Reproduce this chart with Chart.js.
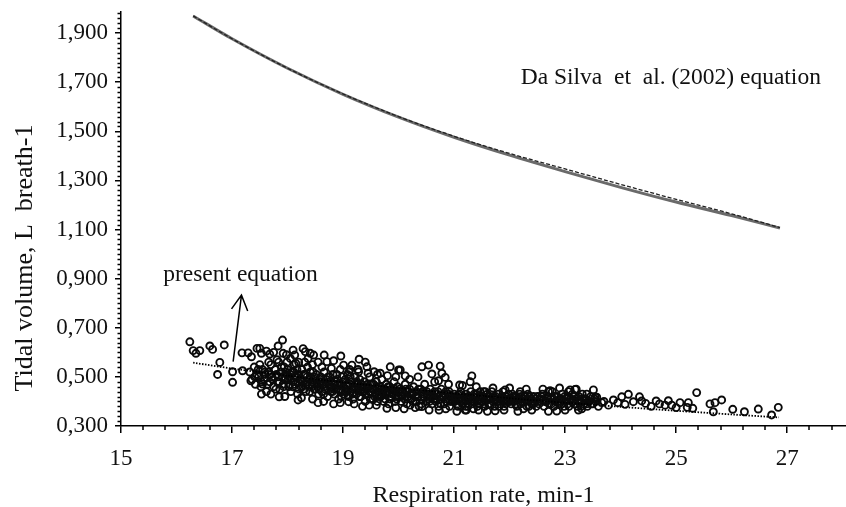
<!doctype html>
<html>
	<head>
		<meta charset="utf-8" />
		<title>Tidal volume vs respiration rate</title>
		<script src="https://cdn.jsdelivr.net/npm/chart.js@4.4.1/dist/chart.umd.min.js"></script>
		<style>
			html,
			body {
				margin: 0;
				padding: 0;
				background: #fff;
			}
			canvas {
				display: block;
			}
		</style>
	</head>

	<body>
		<canvas id="chartJSContainer" width="846" height="507"></canvas>

		<script>
			// axis ticks
			const xTicks = [15, 17, 19, 21, 23, 25, 27];
			const yTicks = [0.3, 0.5, 0.7, 0.9, 1.1, 1.3, 1.5, 1.7, 1.9];
			const yTickLabels = ["0,300", "0,500", "0,700", "0,900", "1,100", "1,300", "1,500", "1,700", "1,900"];

			// Da Silva et al. (2002) equation, two traces
			const daSilvaRate = [16.3, 17, 18, 19, 20, 21, 22, 23, 24, 25, 26, 26.87];
			const daSilvaVol = [1.970, 1.877, 1.757, 1.651, 1.558, 1.476, 1.403, 1.336, 1.272, 1.212, 1.157, 1.106];
			const daSilvaVolDashed = [1.970, 1.877, 1.757, 1.652, 1.560, 1.480, 1.410, 1.347, 1.284, 1.223, 1.164, 1.108];

			// present equation
			const presentRate = [16.3, 17, 18, 19, 20, 21, 22, 23, 24, 25, 26, 26.85];
			const presentVol = [0.558, 0.534, 0.505, 0.478, 0.455, 0.433, 0.413, 0.395, 0.378, 0.362, 0.347, 0.335];

			// observations [rate, volume]
			const observed = [
				[16.24,0.643],[16.30,0.607],[16.35,0.596],[16.42,0.607],[16.60,0.626],[16.65,0.612],[16.86,0.630],[16.78,0.559],
				[16.74,0.510],[17.01,0.521],[17.01,0.478],[17.18,0.598],[17.29,0.598],[17.35,0.582],[17.45,0.616],[17.50,0.616],
				[17.53,0.596],[17.68,0.593],[17.83,0.626],[17.91,0.650],[17.92,0.596],[18.10,0.609],[18.13,0.589],[18.32,0.603],
				[18.41,0.596],[18.47,0.589],[18.66,0.589],[18.71,0.562],[18.83,0.566],[18.96,0.585],[19.01,0.548],[19.16,0.548],
				[19.29,0.572],[19.43,0.541],[19.28,0.521],[19.56,0.521],[19.67,0.515],[19.85,0.541],[20.00,0.528],[17.53,0.430],
				[17.85,0.419],[18.19,0.406],[17.55,0.471],[17.34,0.484],[17.19,0.525],[18.55,0.395],[18.83,0.390],[19.47,0.385],
				[19.79,0.372],[19.10,0.399],[17.62,0.605],[17.75,0.600],[17.98,0.590],[18.05,0.575],[18.20,0.560],[18.28,0.615],
				[18.37,0.575],[18.55,0.560],[19.12,0.530],[19.40,0.560],
				[20.03,0.528],[20.12,0.504],[20.42,0.541],[20.54,0.548],[20.60,0.512],[20.75,0.544],[20.78,0.515],[20.72,0.484],
				[20.84,0.498],[21.32,0.504],[21.29,0.480],[21.10,0.467],[21.56,0.440],[21.92,0.447],[22.19,0.440],[22.70,0.440],
				[23.09,0.447],[23.18,0.449],[23.51,0.447],[23.57,0.417],[23.66,0.395],[20.73,0.365],[21.22,0.365],[21.74,0.362],
				[21.44,0.365],[22.85,0.361],[23.24,0.365],[20.42,0.379],[20.21,0.385],
				[22.73,0.444],[23.06,0.440],[23.39,0.430],[23.54,0.419],[23.87,0.406],[24.02,0.419],[24.14,0.429],[24.23,0.399],
				[24.34,0.419],[24.38,0.402],[24.64,0.402],[24.70,0.390],[24.86,0.403],[24.92,0.385],[25.07,0.395],[25.22,0.395],
				[25.20,0.376],[25.30,0.372],[25.37,0.436],[25.61,0.390],[25.70,0.395],[25.82,0.406],[25.67,0.358],[26.02,0.368],
				[26.23,0.358],[26.48,0.369],[26.72,0.345],[26.84,0.376],[21.08,0.426],[21.20,0.365],[21.53,0.440],
				[23.70,0.400],[23.78,0.385],[23.95,0.395],[24.08,0.388],[24.45,0.392],[24.55,0.380],[24.80,0.385],[25.00,0.375],
				// dense band
				[17.32,0.52],[17.36,0.49],[17.40,0.54],[17.42,0.47],[17.45,0.51],[17.48,0.50],[17.50,0.55],[17.52,0.46],
				[17.55,0.53],[17.58,0.49],[17.60,0.51],[17.62,0.44],[17.65,0.52],[17.68,0.48],[17.70,0.55],[17.72,0.50],
				[17.75,0.46],[17.78,0.53],[17.80,0.51],[17.82,0.48],[17.84,0.56],[17.86,0.45],[17.88,0.52],[17.90,0.50],
				[17.92,0.47],[17.94,0.54],[17.96,0.49],[17.98,0.51],
				[18.00,0.53],[18.02,0.46],[18.04,0.50],[18.06,0.44],[18.08,0.52],[18.10,0.48],[18.12,0.55],[18.14,0.47],
				[18.16,0.50],[18.18,0.43],[18.20,0.51],[18.22,0.49],[18.24,0.46],[18.26,0.53],[18.28,0.48],[18.30,0.45],
				[18.32,0.51],[18.34,0.47],[18.36,0.54],[18.38,0.49],[18.40,0.44],[18.42,0.50],[18.44,0.47],[18.46,0.52],
				[18.48,0.45],[18.50,0.49],
				[18.52,0.51],[18.54,0.46],[18.56,0.43],[18.58,0.48],[18.60,0.50],[18.62,0.44],[18.64,0.47],[18.66,0.52],
				[18.68,0.45],[18.70,0.49],[18.72,0.42],[18.74,0.47],[18.76,0.50],[18.78,0.44],[18.80,0.46],[18.82,0.51],
				[18.84,0.43],[18.86,0.48],[18.88,0.45],[18.90,0.49],[18.92,0.41],[18.94,0.47],[18.96,0.44],[18.98,0.50],
				[19.00,0.46],[19.02,0.43],[19.04,0.49],[19.06,0.45],[19.08,0.51],[19.10,0.42],[19.12,0.47],[19.14,0.44],
				[19.16,0.48],[19.18,0.41],[19.20,0.46],[19.22,0.50],[19.24,0.43],[19.26,0.47],[19.28,0.45],[19.30,0.49],
				[19.32,0.42],[19.34,0.46],[19.36,0.44],[19.38,0.48],[19.40,0.40],[19.42,0.45],[19.44,0.47],[19.46,0.43],
				[19.48,0.50],
				[19.50,0.44],[19.52,0.47],[19.54,0.41],[19.56,0.45],[19.58,0.43],[19.60,0.48],[19.62,0.40],[19.64,0.44],
				[19.66,0.46],[19.68,0.42],[19.70,0.49],[19.72,0.43],[19.74,0.45],[19.76,0.41],[19.78,0.47],[19.80,0.44],
				[19.82,0.39],[19.84,0.46],[19.86,0.42],[19.88,0.45],[19.90,0.43],[19.92,0.48],[19.94,0.40],[19.96,0.44],
				[19.98,0.46],
				[20.00,0.42],[20.02,0.45],[20.05,0.40],[20.07,0.44],[20.10,0.43],[20.12,0.47],[20.15,0.39],[20.17,0.42],
				[20.20,0.45],[20.22,0.41],[20.25,0.43],[20.27,0.46],[20.30,0.40],[20.32,0.44],[20.35,0.42],[20.37,0.38],
				[20.40,0.45],[20.42,0.41],[20.45,0.43],[20.47,0.47],[20.50,0.40],
				[20.52,0.43],[20.55,0.41],[20.57,0.45],[20.60,0.39],[20.62,0.42],[20.65,0.44],[20.67,0.40],[20.70,0.43],
				[20.72,0.38],[20.75,0.41],[20.77,0.45],[20.80,0.42],[20.82,0.39],[20.85,0.44],[20.87,0.41],[20.90,0.43],
				[20.92,0.38],[20.95,0.42],[20.97,0.40],
				[21.00,0.43],[21.02,0.40],[21.05,0.42],[21.07,0.38],[21.10,0.41],[21.12,0.44],[21.15,0.39],[21.17,0.42],
				[21.20,0.40],[21.22,0.43],[21.25,0.38],[21.27,0.41],[21.30,0.44],[21.32,0.39],[21.35,0.42],[21.37,0.40],
				[21.40,0.43],[21.42,0.38],[21.45,0.41],[21.47,0.44],
				[21.50,0.40],[21.52,0.42],[21.55,0.38],[21.58,0.41],[21.60,0.43],[21.63,0.39],[21.65,0.41],[21.68,0.44],
				[21.70,0.40],[21.73,0.38],[21.75,0.42],[21.78,0.40],[21.80,0.43],[21.83,0.39],[21.85,0.41],[21.88,0.44],
				[21.90,0.38],[21.93,0.42],[21.95,0.40],[21.98,0.43],
				[22.00,0.41],[22.03,0.39],[22.05,0.43],[22.08,0.40],[22.10,0.42],[22.13,0.38],[22.15,0.41],[22.18,0.43],
				[22.20,0.39],[22.23,0.41],[22.25,0.37],[22.28,0.42],[22.30,0.40],[22.33,0.43],[22.35,0.38],[22.38,0.41],
				[22.40,0.39],[22.43,0.42],[22.45,0.40],[22.48,0.38],
				[22.50,0.42],[22.53,0.39],[22.56,0.41],[22.59,0.43],[22.62,0.38],[22.65,0.40],[22.68,0.42],[22.71,0.39],
				[22.74,0.41],[22.77,0.44],[22.80,0.38],[22.83,0.40],[22.86,0.42],[22.89,0.39],[22.92,0.41],[22.95,0.43],
				[22.98,0.38],
				[23.01,0.40],[23.04,0.42],[23.07,0.38],[23.10,0.41],[23.13,0.43],[23.16,0.39],[23.19,0.41],[23.22,0.38],
				[23.25,0.42],[23.28,0.40],[23.31,0.43],[23.34,0.39],[23.37,0.41],[23.40,0.38],[23.43,0.40],[23.46,0.42],
				[23.50,0.39],[23.55,0.40],[23.60,0.38],
				// second pass over the dense band
				[17.41,0.50],[17.47,0.53],[17.53,0.48],[17.59,0.52],[17.64,0.47],[17.69,0.51],[17.74,0.49],[17.79,0.45],
				[17.83,0.50],[17.89,0.54],[17.93,0.46],[17.97,0.52],
				[18.01,0.49],[18.05,0.51],[18.09,0.46],[18.13,0.50],[18.17,0.53],[18.21,0.45],[18.25,0.49],[18.29,0.51],
				[18.33,0.44],[18.37,0.48],[18.41,0.52],[18.45,0.46],[18.49,0.50],
				[18.53,0.47],[18.57,0.45],[18.61,0.48],[18.65,0.43],[18.69,0.47],[18.73,0.50],[18.77,0.46],[18.81,0.44],
				[18.85,0.47],[18.89,0.51],[18.93,0.45],[18.97,0.42],
				[19.01,0.48],[19.05,0.44],[19.09,0.46],[19.13,0.50],[19.17,0.43],[19.21,0.45],[19.25,0.48],[19.29,0.42],
				[19.33,0.47],[19.37,0.45],[19.41,0.43],[19.45,0.46],[19.49,0.41],
				[19.53,0.45],[19.57,0.42],[19.61,0.46],[19.65,0.43],[19.69,0.45],[19.73,0.40],[19.77,0.44],[19.81,0.46],
				[19.85,0.41],[19.89,0.43],[19.93,0.45],[19.97,0.41],
				[20.01,0.44],[20.06,0.42],[20.11,0.41],[20.16,0.44],[20.21,0.43],[20.26,0.40],[20.31,0.42],[20.36,0.45],
				[20.41,0.39],[20.46,0.42],[20.51,0.44],
				[20.56,0.40],[20.61,0.43],[20.66,0.41],[20.71,0.44],[20.76,0.39],[20.81,0.42],[20.86,0.40],[20.91,0.44],
				[20.96,0.41],
				[21.01,0.41],[21.06,0.39],[21.11,0.43],[21.16,0.41],[21.21,0.38],[21.26,0.42],[21.31,0.40],[21.36,0.43],
				[21.41,0.40],[21.46,0.39],
				[21.51,0.42],[21.56,0.40],[21.61,0.41],[21.66,0.39],[21.71,0.42],[21.76,0.41],[21.81,0.38],[21.86,0.42],
				[21.91,0.40],[21.96,0.41],
				[22.01,0.40],[22.06,0.42],[22.11,0.39],[22.16,0.41],[22.21,0.42],[22.26,0.40],[22.31,0.38],[22.36,0.42],
				[22.41,0.40],[22.46,0.41],
				[22.51,0.40],[22.57,0.42],[22.63,0.40],[22.69,0.41],[22.75,0.39],[22.81,0.42],[22.87,0.40],[22.93,0.39],
				[22.99,0.42],
				[23.05,0.39],[23.11,0.40],[23.17,0.42],[23.23,0.40],[23.29,0.38],[23.35,0.41],[23.41,0.40],[23.47,0.39],
				[23.53,0.41],
				// third pass, core of the band
				[17.85,0.48],[17.95,0.50],[18.03,0.47],[18.11,0.52],[18.19,0.48],[18.27,0.46],[18.35,0.50],[18.43,0.48],
				[18.51,0.45],[18.59,0.49],[18.67,0.46],[18.75,0.48],[18.83,0.45],[18.91,0.47],[18.99,0.44],[19.07,0.47],
				[19.15,0.45],[19.23,0.47],[19.31,0.44],[19.39,0.46],[19.47,0.44],[19.55,0.47],[19.63,0.42],[19.71,0.44],
				[19.79,0.43],[19.87,0.44],[19.95,0.42],[20.03,0.43],[20.13,0.45],[20.23,0.41],[20.33,0.43],[20.43,0.44],
				[20.53,0.42],[20.63,0.41],[20.73,0.42],[20.83,0.43],[20.93,0.40],[21.03,0.42],[21.13,0.40],[21.23,0.41],
				[21.33,0.41],[21.43,0.42],[21.53,0.39],[21.63,0.42],[21.73,0.41],[21.83,0.40],[21.93,0.39],[22.03,0.41],
				[22.13,0.42],[22.23,0.40],[22.33,0.41],[22.43,0.39],[22.55,0.41],[22.67,0.40],[22.79,0.41],[22.91,0.40],
				[23.03,0.41],[23.15,0.40],[23.27,0.41],[23.39,0.39],
				// band edges
				[17.66,0.56],[17.81,0.57],[17.99,0.56],[18.15,0.555],[18.31,0.56],[18.45,0.55],[18.62,0.54],[18.79,0.535],
				[18.95,0.53],[19.11,0.52],[19.27,0.53],[19.45,0.515],[19.62,0.51],[19.80,0.505],[19.95,0.50],[20.20,0.49],
				[20.35,0.50],[20.65,0.48],[20.90,0.47],[21.15,0.465],[21.40,0.46],[21.70,0.455],[22.00,0.455],[22.30,0.45],
				[22.60,0.45],[22.90,0.455],[23.20,0.45],
				[17.70,0.43],[17.95,0.42],[18.25,0.415],[18.45,0.41],[18.65,0.40],[18.95,0.395],[19.20,0.39],[19.35,0.38],
				[19.60,0.385],[19.95,0.375],[20.10,0.37],[20.30,0.375],[20.55,0.365],[20.85,0.37],[21.05,0.36],[21.35,0.37],
				[21.60,0.36],[21.90,0.365],[22.15,0.36],[22.40,0.365],[22.70,0.36],[23.00,0.365],[23.30,0.37]
			];

			// annotation anchors in data units
			const daSilvaLabel = { text: "Da Silva  et  al. (2002) equation", x: 22.2, y: 1.693 };
			const presentLabel = { text: "present equation", x: 15.76, y: 0.890 };
			const arrowFrom = [17.02, 0.562];
			const arrowTo = [17.17, 0.833];

			const serif = "'Liberation Serif', 'Times New Roman', serif";
			const toXY = (xs, ys) => xs.map((x, i) => ({ x: x, y: ys[i] }));

			// minor ticks + text annotations + axis titles, placed with the chart's own scales
			const decorPlugin = {
				id: "decor",
				afterDraw(chart) {
					const { ctx, scales, chartArea } = chart;
					const xs = scales.x, ys = scales.y;
					ctx.save();
					ctx.strokeStyle = "#000";
					ctx.lineWidth = 1.5;
					ctx.beginPath();
					for (let k = 0; k * 0.4 + 15 <= xs.max + 1e-9; k++) {
						if (k % 5 === 0) continue;
						const px = Math.round(xs.getPixelForValue(15 + k * 0.4));
						ctx.moveTo(px, chartArea.bottom);
						ctx.lineTo(px, chartArea.bottom + 4);
					}
					for (let k = 0; 0.3 + k * 0.02 <= ys.max + 1e-9; k++) {
						if (k % 10 === 0) continue;
						const py = Math.round(ys.getPixelForValue(0.3 + k * 0.02)) + 0.5;
						ctx.moveTo(chartArea.left, py);
						ctx.lineTo(chartArea.left - 3.5, py);
					}
					ctx.stroke();

					ctx.fillStyle = "#111";
					ctx.font = "23.5px " + serif;
					ctx.textBaseline = "alphabetic";
					ctx.textAlign = "left";
					ctx.fillText(daSilvaLabel.text, xs.getPixelForValue(daSilvaLabel.x), ys.getPixelForValue(daSilvaLabel.y));
					ctx.fillText(presentLabel.text, xs.getPixelForValue(presentLabel.x), ys.getPixelForValue(presentLabel.y));

					// arrow
					const ax = xs.getPixelForValue(arrowFrom[0]), ay = ys.getPixelForValue(arrowFrom[1]);
					const bx = xs.getPixelForValue(arrowTo[0]), by = ys.getPixelForValue(arrowTo[1]);
					const ang = Math.atan2(by - ay, bx - ax);
					ctx.lineWidth = 1.5;
					ctx.beginPath();
					ctx.moveTo(ax, ay);
					ctx.lineTo(bx, by);
					ctx.moveTo(bx - 17 * Math.cos(ang - 0.5), by - 17 * Math.sin(ang - 0.5));
					ctx.lineTo(bx, by);
					ctx.lineTo(bx - 17 * Math.cos(ang + 0.5), by - 17 * Math.sin(ang + 0.5));
					ctx.stroke();

					// axis titles
					ctx.font = "24px " + serif;
					ctx.textAlign = "center";
					ctx.fillText("Respiration rate, min-1", (chartArea.left + chartArea.right) / 2, 502);
					ctx.translate(32, 258);
					ctx.rotate(-Math.PI / 2);
					ctx.font = "26px " + serif;
					ctx.fillText("Tidal volume, L  breath-1", 0, 0);
					ctx.restore();
				},
			};

			const ctx = document.getElementById("chartJSContainer").getContext("2d");
			new Chart(ctx, {
				type: "scatter",
				data: {
					datasets: [
						{
							label: "present equation",
							data: toXY(presentRate, presentVol),
							showLine: true,
							pointRadius: 0,
							borderColor: "#000",
							borderWidth: 1.8,
							borderDash: [1.5, 1.5],
							tension: 0.3,
						},
						{
							label: "Da Silva dashed",
							data: toXY(daSilvaRate, daSilvaVolDashed),
							showLine: true,
							pointRadius: 0,
							borderColor: "#222",
							borderWidth: 1.3,
							borderDash: [4, 2],
							cubicInterpolationMode: "monotone",
						},
						{
							label: "Da Silva",
							data: toXY(daSilvaRate, daSilvaVol),
							showLine: true,
							pointRadius: 0,
							borderColor: "#6a6a6a",
							borderWidth: 3,
							cubicInterpolationMode: "monotone",
						},
						{
							label: "observed",
							data: observed.map((p) => ({ x: p[0], y: p[1] })),
							pointStyle: "circle",
							pointRadius: 3.5,
							borderWidth: 1.9,
							borderColor: "#0a0a0a",
							backgroundColor: "rgba(255,255,255,0)",
						},
					],
				},
				options: {
					responsive: false,
					animation: false,
					layout: { autoPadding: false, padding: { top: 12, right: 0, left: 0, bottom: 0 } },
					plugins: {
						legend: { display: false },
						tooltip: { enabled: false },
					},
					scales: {
						x: {
							type: "linear",
							min: 15,
							max: 28.06,
							afterBuildTicks: (s) => {
								s.ticks = xTicks.map((v) => ({ value: v }));
							},
							afterFit: (s) => {
								s.height = 81;
								s.paddingLeft = 0;
								s.paddingRight = 0;
							},
							grid: { drawOnChartArea: false, drawTicks: true, tickLength: 7, color: "#000", lineWidth: 1.5 },
							border: { color: "#000", width: 1.5 },
							ticks: {
								color: "#111",
								font: { family: serif, size: 23 },
								padding: 12,
								maxRotation: 0,
								callback: (v) => String(v),
							},
						},
						y: {
							type: "linear",
							min: 0.3,
							max: 1.986,
							afterBuildTicks: (s) => {
								s.ticks = yTicks.map((v) => ({ value: v }));
							},
							afterFit: (s) => {
								s.width = 121;
								s.paddingTop = 0;
								s.paddingBottom = 0;
							},
							grid: { drawOnChartArea: false, drawTicks: true, tickLength: 6, color: "#000", lineWidth: 1.5 },
							border: { color: "#000", width: 1.5 },
							ticks: {
								color: "#111",
								font: { family: serif, size: 23 },
								padding: 7,
								callback: (v, i) => yTickLabels[i],
							},
						},
					},
				},
				plugins: [decorPlugin],
			});
		</script>
	</body>
</html>
